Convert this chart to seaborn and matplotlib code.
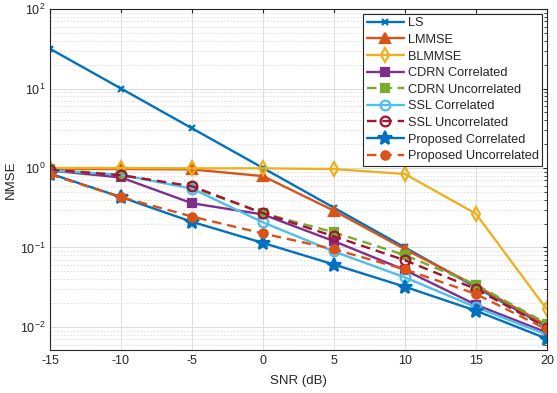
import matplotlib
matplotlib.use("Agg")
from matplotlib import pyplot as plt
import seaborn as sns
import numpy as np

# SNR points (dB)
snr = [-15, -10, -5, 0, 5, 10, 15, 20]

# NMSE values
ls_nmse = [31.6, 10.0, 3.16, 1.0, 0.316, 0.1, 0.0316, 0.01]
lmmse = [0.97, 0.97, 0.96, 0.79, 0.29, 0.095, 0.033, 0.0105]
blmmse = [1.0, 1.0, 0.99, 0.99, 0.97, 0.84, 0.266, 0.0166]
cdrn_corr = [0.93, 0.76, 0.36, 0.26, 0.12, 0.052, 0.019, 0.0085]
cdrn_uncorr = [0.96, 0.82, 0.57, 0.27, 0.155, 0.08, 0.034, 0.011]
ssl_corr = [0.93, 0.82, 0.55, 0.207, 0.089, 0.042, 0.0177, 0.008]
ssl_uncorr = [0.95, 0.81, 0.59, 0.27, 0.138, 0.069, 0.030, 0.0098]
prop_corr = [0.85, 0.43, 0.21, 0.114, 0.061, 0.032, 0.016, 0.0071]
prop_uncorr = [0.83, 0.43, 0.245, 0.15, 0.095, 0.053, 0.026, 0.0093]

labels = ["LS", "LMMSE", "BLMMSE", "CDRN Correlated", "CDRN Uncorrelated",
          "SSL Correlated", "SSL Uncorrelated", "Proposed Correlated",
          "Proposed Uncorrelated"]

sns.set_style("white")
plt.rcParams["font.family"] = ["Liberation Sans", "DejaVu Sans"]
plt.rcParams["mathtext.fontset"] = "custom"
plt.rcParams["mathtext.rm"] = "Liberation Sans"

fig = plt.figure(figsize=(5.57, 3.93), dpi=100)
ax = fig.add_axes([0.0898, 0.109, 0.892, 0.868])

dash = (0, (4, 2.5))
styles = [
    # data, color, marker, markersize, facecolor, linestyle
    (ls_nmse, "#0072BD", "x", 5, None, "-"),
    (lmmse, "#D95319", "^", 7, "#D95319", "-"),
    (blmmse, "#EDB120", "d", 7, "none", "-"),
    (cdrn_corr, "#7E2F8E", "s", 6, "#7E2F8E", "-"),
    (cdrn_uncorr, "#77AC30", "s", 6, "#77AC30", dash),
    (ssl_corr, "#4DBEEE", "o", 7, "none", "-"),
    (ssl_uncorr, "#A2142F", "o", 7, "none", dash),
    (prop_corr, "#0072BD", "*", 10, "#0072BD", "-"),
    (prop_uncorr, "#D95319", "o", 6, "#D95319", dash),
]

for (vals, col, mk, ms, fc, lsty), lab in zip(styles, labels):
    kw = dict(x=snr, y=vals, ax=ax, color=col, marker=mk, markersize=ms,
              linewidth=1.7, markeredgewidth=1.6, markeredgecolor=col,
              label=lab)
    if fc is not None:
        kw["markerfacecolor"] = fc
    sns.lineplot(linestyle=lsty, **kw)

ax.set_yscale("log")
ax.set_xlim(-15, 20)
ax.set_ylim(0.0051, 100)
ax.set_xticks(snr)
ax.set_xticklabels([str(s) for s in snr])

ax.grid(True, which="major", color="#dcdcdc", linewidth=0.7, linestyle="-")
ax.grid(True, which="minor", axis="y", color="#dcdcdc", linewidth=0.6, linestyle=(0, (2, 2)))
ax.set_axisbelow(True)
ax.tick_params(which="both", direction="in", top=True, right=True,
               labelsize=9, colors="#262626", length=3)
ax.tick_params(which="minor", length=2)
for sp in ax.spines.values():
    sp.set_color("#262626")
    sp.set_linewidth(0.8)

ax.set_xlabel("SNR (dB)", fontsize=9.5, color="#262626", labelpad=6)
ax.set_ylabel("NMSE", fontsize=9.5, color="#262626", labelpad=2)

leg = ax.legend(loc="upper right", fontsize=9.2, frameon=True, fancybox=False,
                edgecolor="#262626", framealpha=1, borderpad=0.3,
                labelspacing=0.36, handlelength=2.9, handletextpad=0.3,
                borderaxespad=0.35)
leg.get_frame().set_linewidth(0.8)

fig.savefig("out.png", dpi=100)
